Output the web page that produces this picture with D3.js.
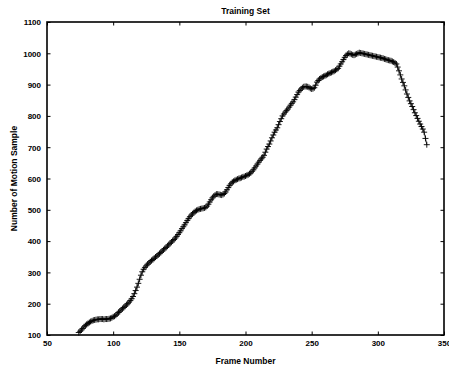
<!DOCTYPE html>
<html><head><meta charset="utf-8">
<script src="https://cdn.jsdelivr.net/npm/d3@7"></script>
<style>body{margin:0;background:#fff}svg{display:block}text{font-family:"Liberation Sans",Arial,sans-serif;font-weight:bold}</style>
</head><body><svg id="c" width="449" height="367"></svg>
<script>
const titleText = "Training Set";
const xLabel = "Frame Number";
const yLabel = "Number of Motion Sample";
const xTicks = [50,100,150,200,250,300,350];
const yTicks = [100,200,300,400,500,600,700,800,900,1000,1100];
const firstFrame = 74;
const counts = [
108,112,116,121,126,130,134,137,140,143,145,147,148,149,150,150,151,151,151,150,151,151,151,152,153,155,
158,160,163,167,172,176,180,184,188,192,196,200,205,210,216,223,232,242,253,265,278,291,302,310,316,321,326,330,334,338,
341,345,349,352,356,360,364,368,372,376,380,384,388,393,397,401,405,410,415,421,427,433,440,446,452,459,466,472,478,483,
487,491,495,498,500,502,503,504,505,506,508,512,518,525,532,538,543,547,550,550,549,548,547,549,552,557,564,571,578,583,
588,591,594,596,598,600,601,603,605,606,608,610,612,615,618,623,628,634,640,646,652,658,663,668,674,684,694,702,710,720,
730,739,748,755,762,772,782,791,800,806,812,817,822,828,834,840,845,852,860,868,876,881,886,890,893,894,894,893,891,888,
886,887,890,898,908,913,918,921,924,926,928,930,933,935,937,939,941,943,946,949,952,959,966,973,980,987,993,997,1000,999,
997,995,994,996,998,1000,1002,1001,1000,999,998,997,996,995,994,993,992,991,990,989,988,987,986,985,984,982,981,979,978,977,
976,974,972,969,966,956,944,931,918,907,896,883,870,859,848,839,830,820,810,801,792,783,774,766,758,748,728,708];
const data = counts.map((v,i)=>({f:firstFrame+i, v}));

const svg = d3.select("#c");
const L=47, R=444, T=22, B=335;
const x = d3.scaleLinear().domain([50,350]).range([L,R]);
const y = d3.scaleLinear().domain([100,1100]).range([B,T]);

// series line
svg.append("path").datum(data)
  .attr("fill","none").attr("stroke","#000").attr("stroke-width",0.8)
  .attr("d", d3.line().x(d=>x(d.f)).y(d=>y(d.v)));
// plus markers
const s=3;
svg.append("g").selectAll("path").data(data).join("path")
  .attr("transform", d=>`translate(${x(d.f)},${y(d.v)})`)
  .attr("d", `M${-s},0H${s}M0,${-s}V${s}`)
  .attr("stroke","#000").attr("stroke-width",0.9).attr("fill","none");

// axes
const tl=3.5;
const gx = svg.append("g").attr("transform",`translate(0,${B})`)
  .call(d3.axisBottom(x).tickValues(xTicks).tickSize(-tl).tickPadding(6).tickFormat(d3.format("d")));
const gxt = svg.append("g").attr("transform",`translate(0,${T})`)
  .call(d3.axisTop(x).tickValues(xTicks).tickSize(-tl).tickFormat(""));
const gy = svg.append("g").attr("transform",`translate(${L},0)`)
  .call(d3.axisLeft(y).tickValues(yTicks).tickSize(-tl).tickPadding(6).tickFormat(d3.format("d")));
const gyr = svg.append("g").attr("transform",`translate(${R},0)`)
  .call(d3.axisRight(y).tickValues(yTicks).tickSize(-tl).tickFormat(""));
[gx,gxt,gy,gyr].forEach(g=>{
  g.select(".domain").remove();
  g.selectAll(".tick line").attr("stroke","#000").attr("stroke-width",1);
  g.selectAll(".tick text").attr("font-size",8).attr("font-family","'Liberation Sans',Arial,sans-serif").attr("font-weight","bold").attr("fill","#000");
});
gy.selectAll(".tick text").attr("dy","0.35em");
gx.selectAll(".tick text").attr("dy","0.6em");
svg.append("rect").attr("x",L).attr("y",T).attr("width",R-L).attr("height",B-T)
  .attr("fill","none").attr("stroke","#000").attr("stroke-width",1.6);

svg.append("text").attr("x",(L+R)/2).attr("y",14).attr("text-anchor","middle").attr("font-size",8.5).text(titleText);
svg.append("text").attr("x",(L+R)/2).attr("y",364).attr("text-anchor","middle").attr("font-size",8.5).text(xLabel);
svg.append("text").attr("transform",`translate(17,${(T+B)/2}) rotate(-90)`).attr("text-anchor","middle").attr("font-size",8.5).text(yLabel);
</script></body></html>
